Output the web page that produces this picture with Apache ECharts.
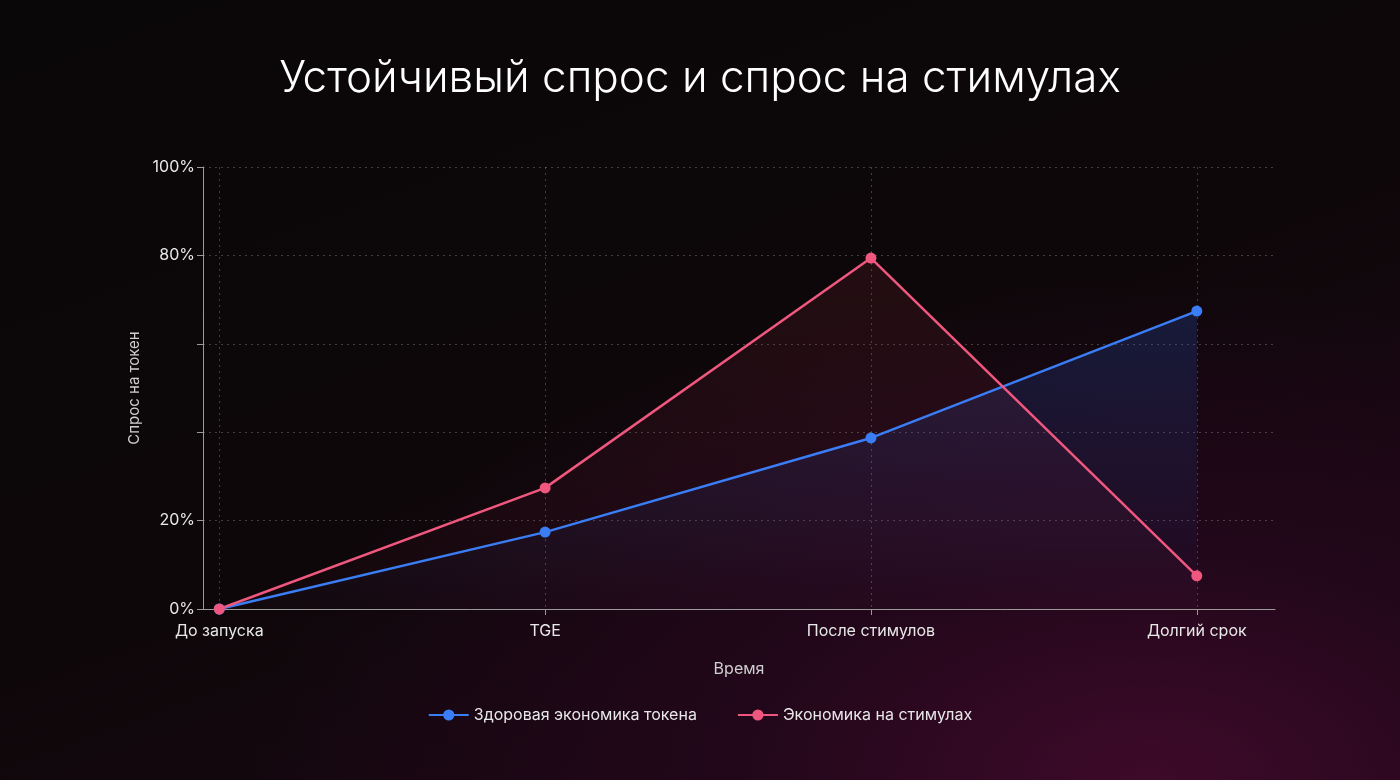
<!DOCTYPE html>
<html><head><meta charset="utf-8">
<script src="https://cdn.jsdelivr.net/npm/echarts@6/dist/echarts.min.js"></script>
<style>
html,body{margin:0;padding:0;width:1400px;height:780px;overflow:hidden;
background:radial-gradient(ellipse 900px 500px at 1150px 780px,#3e0a2a 0%,#22071a 45%,rgba(10,4,8,0) 100%),linear-gradient(160deg,#0a0708 0%,#0d0709 50%,#1e0716 100%);}
#c{width:1400px;height:780px;}
</style></head><body><div id="c"></div>
<script>
const categories=['До запуска','TGE','После стимулов','Долгий срок'];
const healthy=[0,17.4,38.7,67.4];
const incentive=[0,27.4,79.4,7.5];
const yLabels={0:'0%',20:'20%',80:'80%',100:'100%'};
const seriesNames=['Здоровая экономика токена','Экономика на стимулах'];
const chart=echarts.init(document.getElementById('c'));
const pos=categories.map((_,i)=>i);
const mk=(arr)=>arr.map((v,i)=>[i,v]);
chart.setOption({
title:{text:'Устойчивый спрос и спрос на стимулах',left:'center',top:52,textStyle:{color:'#fff',fontSize:44,fontWeight:300,fontFamily:'Inter'}},
grid:{left:203,right:125,top:167,bottom:171},
legend:{bottom:52,left:'center',itemGap:40,itemWidth:40,textStyle:{color:'#e8e8e8',fontSize:16,fontFamily:'Inter'},data:seriesNames},
xAxis:{type:'value',min:-0.05,max:3.24,name:'Время',nameLocation:'middle',nameGap:52,nameTextStyle:{color:'#cfcfcf',fontSize:16,fontFamily:'Inter'},
 axisLine:{show:true,onZero:false,lineStyle:{color:'#9a9a9a'}},
 axisTick:{show:true,customValues:pos,length:6,lineStyle:{color:'#9a9a9a'}},
 axisLabel:{customValues:pos,color:'#e8e8e8',fontSize:16,fontFamily:'Inter',margin:14,formatter:v=>categories[Math.round(v)]},
 splitLine:{show:true,lineStyle:{color:'rgba(255,255,255,0.22)',type:[2,4]}}},
yAxis:{type:'value',min:0,max:100,interval:20,name:'Спрос на токен',nameLocation:'middle',nameGap:58,nameTextStyle:{color:'#cfcfcf',fontSize:15,fontFamily:'Inter'},
 axisLine:{show:true,onZero:false,lineStyle:{color:'#9a9a9a'}},
 axisTick:{show:true,length:6,lineStyle:{color:'#9a9a9a'}},
 axisLabel:{color:'#e8e8e8',fontSize:16,fontFamily:'Inter',formatter:v=>yLabels[v]||''},
 splitLine:{show:true,lineStyle:{color:'rgba(255,255,255,0.22)',type:[2,4]}}},
series:[
{name:seriesNames[0],type:'line',data:mk(healthy),symbol:'circle',symbolSize:11,color:'#3a7df5',lineStyle:{width:2.5},
 areaStyle:{color:new echarts.graphic.LinearGradient(0,0,0,1,[{offset:0,color:'rgba(40,90,200,0.35)'},{offset:1,color:'rgba(40,90,200,0.02)'}])}},
{name:seriesNames[1],type:'line',data:mk(incentive),symbol:'circle',symbolSize:11,color:'#f0577f',lineStyle:{width:2.5},
 areaStyle:{color:new echarts.graphic.LinearGradient(0,0,0,1,[{offset:0,color:'rgba(200,60,90,0.18)'},{offset:1,color:'rgba(200,60,90,0.03)'}])}}
]});
</script></body></html>
